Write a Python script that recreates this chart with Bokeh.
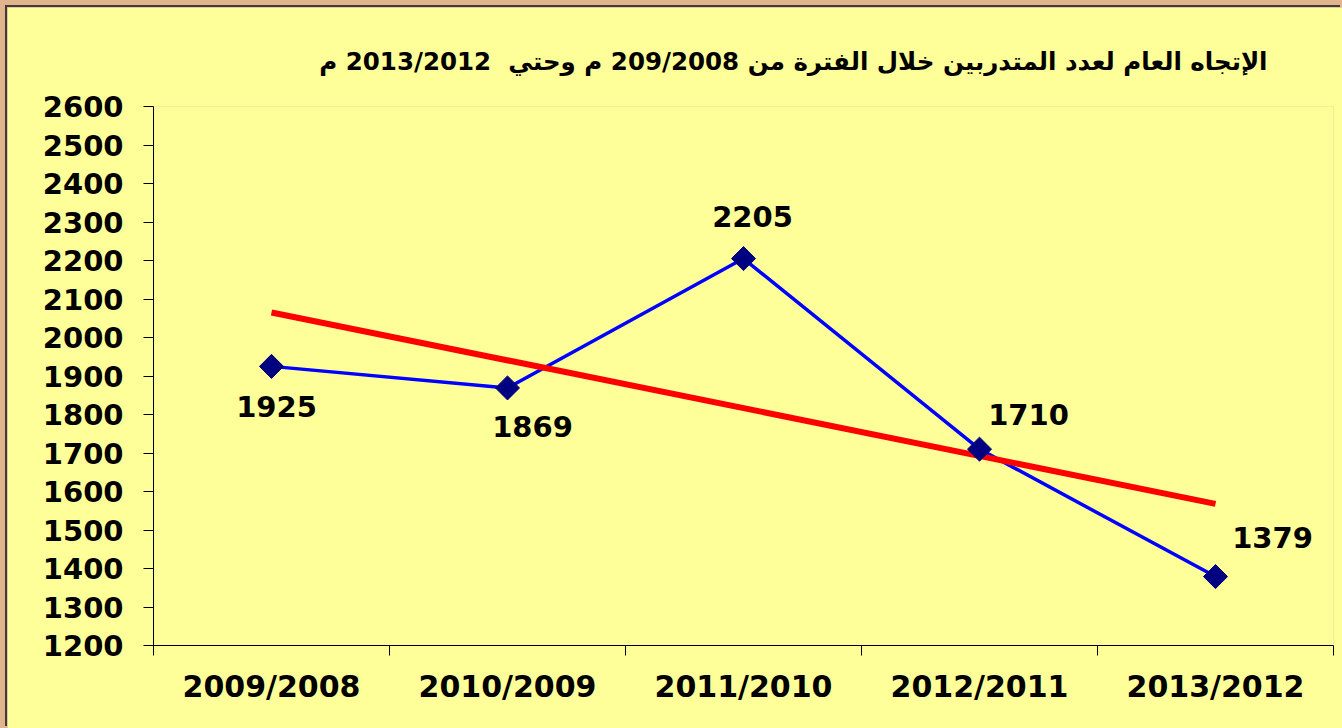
from bokeh.plotting import figure
from bokeh.models import Range1d, FixedTicker, LinearAxis, ColumnDataSource
from bokeh.layouts import column
from bokeh.core.properties import value
from bokeh.embed import file_html
from bokeh.resources import INLINE
import numpy as np

title_text = "الإتجاه العام لعدد المتدربين خلال الفترة من 209/2008 م وحتي\u00a0 2013/2012 م"
categories = ["2009/2008", "2010/2009", "2011/2010", "2012/2011", "2013/2012"]
trainees = [1925, 1869, 2205, 1710, 1379]
trend_values = [2065, 1568]          # first and last category
y_ticks = [1200, 1300, 1400, 1500, 1600, 1700, 1800, 1900, 2000, 2100, 2200, 2300, 2400, 2500, 2600]

# label offsets (pixels) - layout only
label_dx = [5, 25, 9, 49, 57]
label_dy = [40, 39, -42, -35, -39]

BG = "#FFFF99"
FONT = "DejaVu Sans"

n = len(categories)
xc = np.arange(n) + 0.5

p = figure(width=1335, height=721, x_range=Range1d(0, n), y_range=Range1d(y_ticks[0], y_ticks[-1]),
           output_backend="svg", toolbar_location=None,
           background_fill_color=BG, border_fill_color=BG,
           min_border_left=146, min_border_right=9, min_border_top=99, min_border_bottom=83,
           title=title_text)
p.margin = (7, 0, 0, 7)
p.styles = {"box-shadow": "-2px -2px 0 #3c3c3c"}
p.outline_line_color = None
p.grid.visible = False

p.title.align = "right"
p.title.offset = 66
p.title.text_font = FONT
p.title.text_font_style = "bold"
p.title.text_font_size = "24.5px"
p.title.standoff = 62
p.title.text_color = "black"

# y axis
ya = p.yaxis[0]
ya.ticker = FixedTicker(ticks=y_ticks)
ya.major_tick_out = 10
ya.major_tick_in = 0
ya.minor_tick_out = 0
ya.minor_tick_in = 0
ya.major_label_standoff = 20
ya.major_label_text_font = FONT
ya.major_label_text_font_style = "bold"
ya.major_label_text_font_size = "29px"
ya.major_label_text_color = "black"
ya.axis_line_color = "black"
ya.major_tick_line_color = "black"

# x axis: boundary ticks
xa = p.xaxis[0]
xa.ticker = FixedTicker(ticks=list(range(n + 1)))
xa.major_tick_out = 10
xa.major_tick_in = 0
xa.minor_tick_out = 0
xa.minor_tick_in = 0
xa.major_label_text_font_size = "0px"
xa.major_label_text_color = None
xa.major_label_standoff = 0
xa.axis_line_color = "black"
xa.major_tick_line_color = "black"

# x axis: category labels at centers
xl = LinearAxis(ticker=FixedTicker(ticks=list(xc)),
                major_label_overrides={float(x): c for x, c in zip(xc, categories)})
xl.axis_line_color = None
xl.major_tick_line_color = None
xl.minor_tick_line_color = None
xl.major_label_standoff = 7
xl.major_label_text_font = FONT
xl.major_label_text_font_style = "bold"
xl.major_label_text_font_size = "30px"
xl.major_label_text_color = "black"
p.add_layout(xl, "below")

src = ColumnDataSource(dict(x=xc, y=trainees, lbl=[str(v) for v in trainees],
                            dx=label_dx, dy=label_dy))

p.line("x", "y", source=src, line_color="#0000FF", line_width=3.5)
p.line([xc[0], xc[-1]], trend_values, line_color="#FF0000", line_width=6)
p.scatter("x", "y", source=src, marker="square", angle=np.pi / 4, size=17,
          fill_color="#000080", line_color="#000080")
p.text("x", "y", text="lbl", source=src, x_offset="dx", y_offset="dy",
       text_font=value(FONT), text_font_style="bold", text_font_size="29px",
       text_align="center", text_baseline="middle", text_color="black")

layout = column(p, styles={"background-color": "#E2B48E"})

html = file_html(layout, INLINE)
open("out.html", "w").write(html)
